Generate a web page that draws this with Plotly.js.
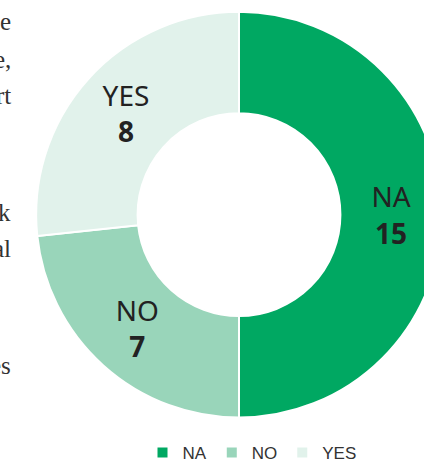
<!DOCTYPE html>
<html><head><meta charset="utf-8">
<script src="https://cdn.plot.ly/plotly-3.0.1.min.js"></script>
<style>html,body{margin:0;padding:0;overflow:hidden;background:#fff}#c{width:478px;height:471px}</style>
</head><body><div id="c"></div>
<script>
const categories = ["NA", "NO", "YES"];
const values = [15, 7, 8];
const colors = ["#00A862", "#99D5BA", "#E1F2EB"];
const sideText = ["e", "e,", "rt", "k", "al", "es"];
const sideTextY = [22, 60, 97, 215, 251, 369];

const W = 478, H = 471;
const trace = {
  type: "pie",
  labels: categories,
  values: values,
  sort: false,
  direction: "clockwise",
  rotation: 0,
  hole: 0.5,
  marker: {colors: colors, line: {color: "#ffffff", width: 2}},
  texttemplate: "%{label}<br><b>%{value}</b>",
  textposition: "inside",
  insidetextorientation: "horizontal",
  textfont: {family: "Noto Sans, Open Sans, sans-serif", size: 28, color: "#222"},
  domain: {x: [34 / W, 444 / W], y: [49 / H, 459 / H]},
  hoverinfo: "none"
};
const annotations = sideText.map((t, i) => ({
  text: t, xref: "paper", yref: "paper", x: 13 / W, y: 1 - sideTextY[i] / H,
  xanchor: "right", yanchor: "middle", showarrow: false,
  font: {family: "Liberation Serif, DejaVu Serif, serif", size: 25, color: "#333"}
}));
Plotly.newPlot("c", [trace], {
  width: W, height: H,
  margin: {l: 0, r: 0, t: 0, b: 0},
  paper_bgcolor: "#fff",
  showlegend: true,
  legend: {orientation: "h", x: 252 / W, xanchor: "center", y: 13 / H, yanchor: "middle",
    font: {family: "Liberation Sans, Arial, sans-serif", size: 17, color: "#333"},
    itemwidth: 30, traceorder: "normal"},
  annotations: annotations
}, {staticPlot: true});
</script></body></html>
